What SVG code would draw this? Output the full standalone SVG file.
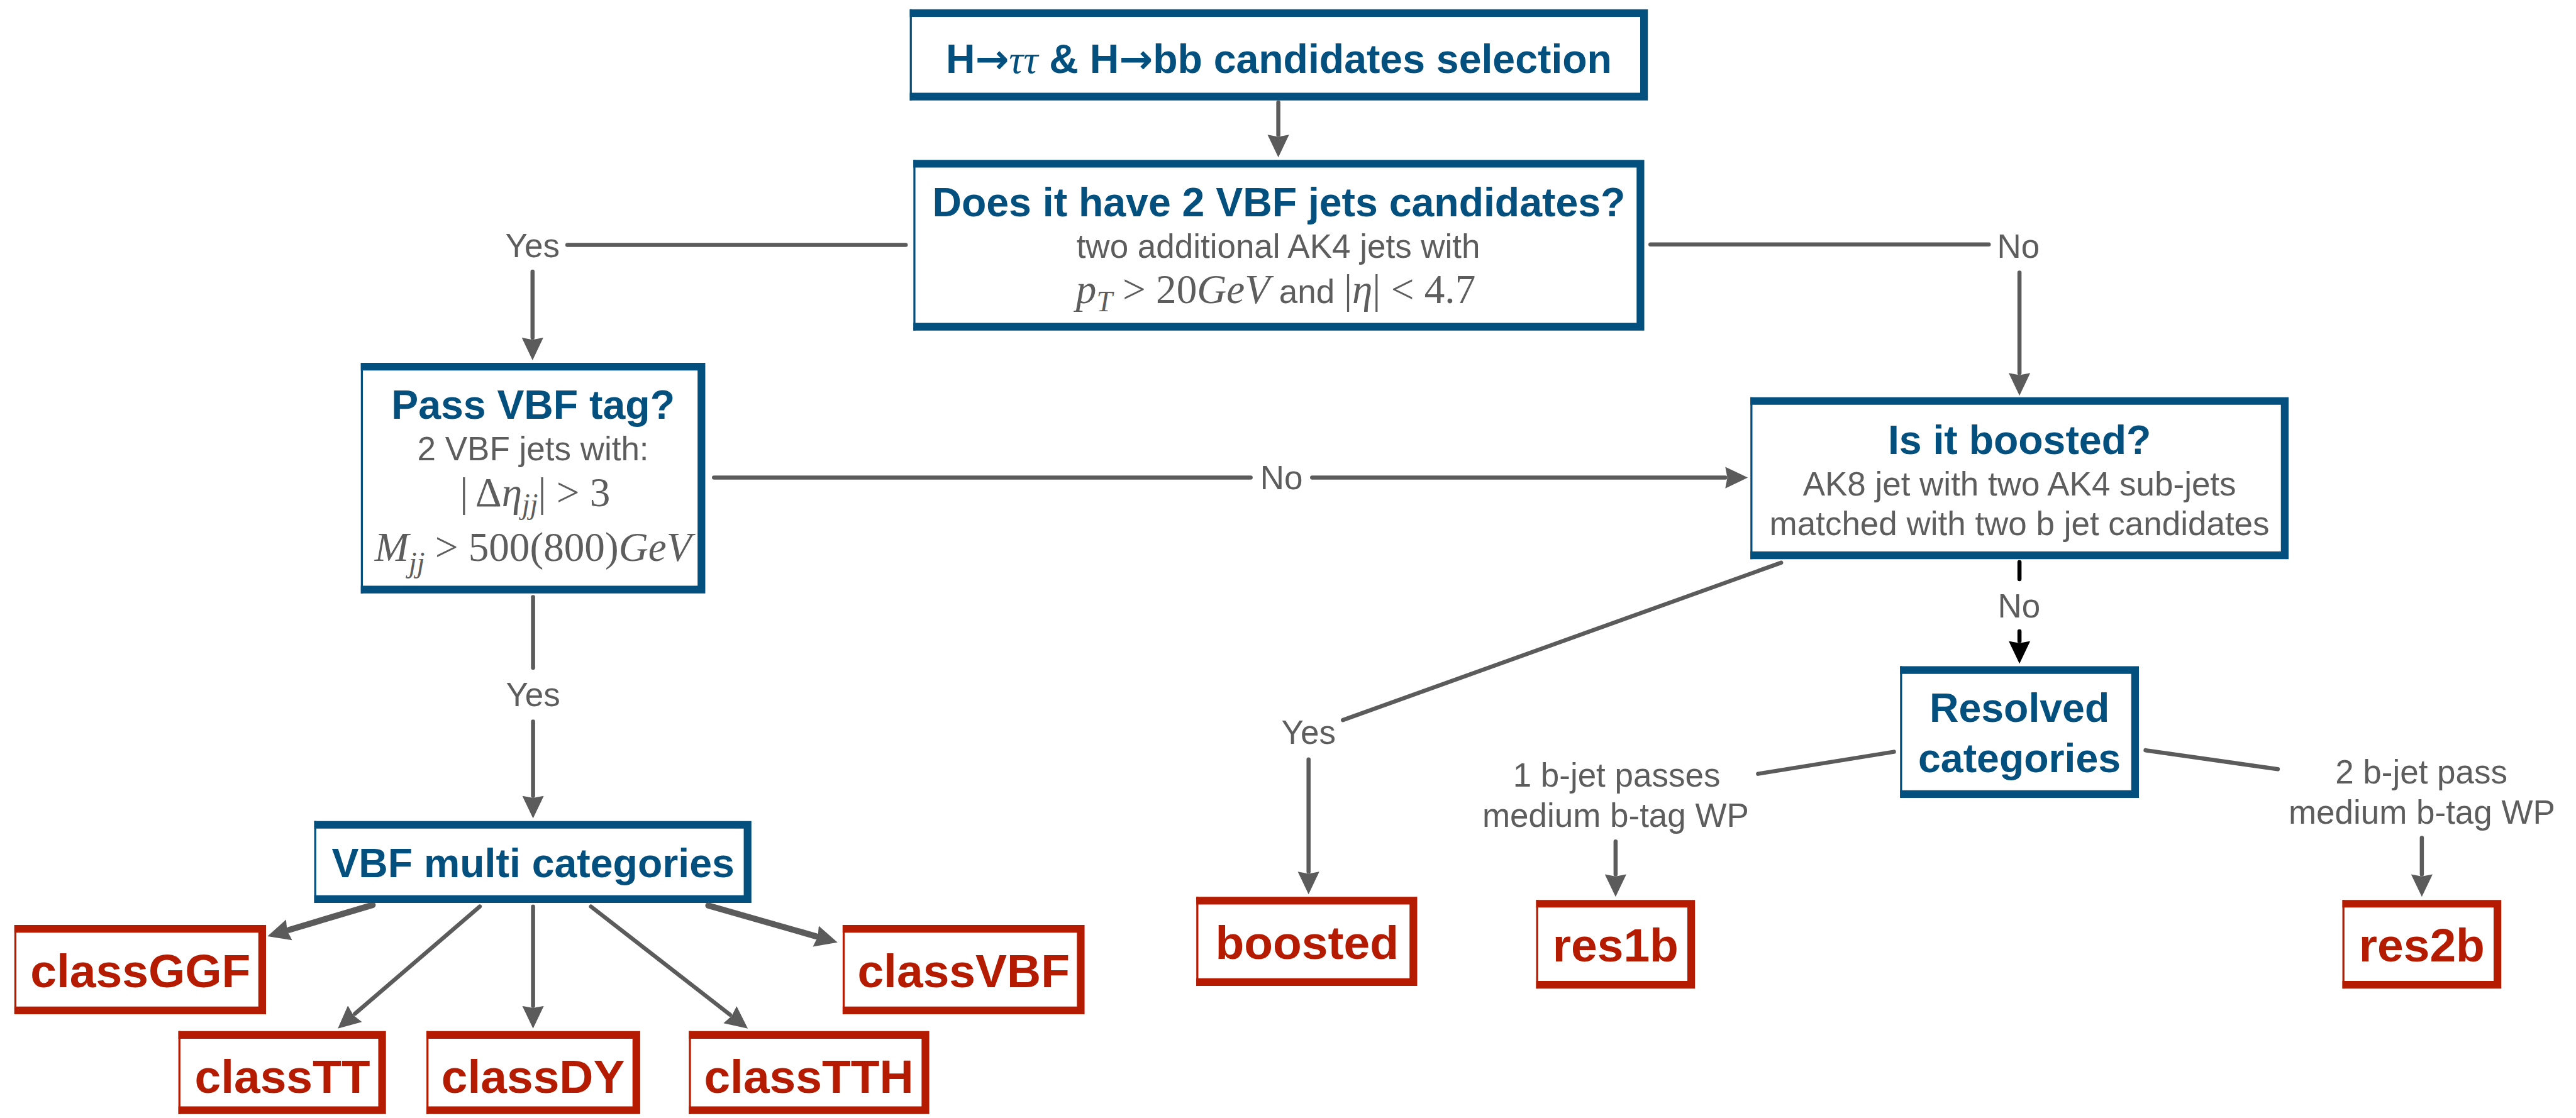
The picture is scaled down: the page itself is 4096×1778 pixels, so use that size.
<svg xmlns="http://www.w3.org/2000/svg" width="4096" height="1778" viewBox="0 0 4096 1778">
<defs>
<style>
.fill{fill:#ffffff}
.bandB{fill:none;stroke:#03507f;stroke-width:15;stroke-linejoin:miter}
.thinB{fill:none;stroke:#03507f;stroke-width:4}
.bandR{fill:none;stroke:#b41b00;stroke-width:15;stroke-linejoin:miter}
.thinR{fill:none;stroke:#b41b00;stroke-width:4}
.title{font-family:"Liberation Sans",Arial,sans-serif;font-weight:bold;fill:#03507f;font-size:79px;text-anchor:middle}
.red{font-family:"Liberation Sans",Arial,sans-serif;font-weight:bold;fill:#b41b00;font-size:92px;text-anchor:middle}
.gray{font-family:"Liberation Sans",Arial,sans-serif;fill:#5d5d5d;font-size:65px;text-anchor:middle}
.math{font-family:"Liberation Serif","Times New Roman",serif;fill:#5d5d5d;font-size:80px;text-anchor:middle}
.it{font-style:italic}
.arr{font-family:"DejaVu Sans",sans-serif;font-weight:bold}
.conn{fill:none;stroke:#5b5b5b;stroke-width:8;stroke-linecap:round}
.thick{stroke-width:12}
.blk{fill:none;stroke:#000000;stroke-width:8;stroke-linecap:round}
</style>
<marker id="ah" viewBox="0 -23 46 46" refX="0" refY="0" markerWidth="46" markerHeight="46" markerUnits="userSpaceOnUse" orient="auto">
<path d="M0,-21 L44,0 L0,21 L4,0 z" fill="#5b5b5b"/>
</marker>
<marker id="ahk" viewBox="0 -23 46 46" refX="0" refY="0" markerWidth="46" markerHeight="46" markerUnits="userSpaceOnUse" orient="auto">
<path d="M0,-21 L44,0 L0,21 L4,0 z" fill="#000000"/>
</marker>
</defs>
<rect width="4096" height="1778" fill="#ffffff"/>
<g transform="scale(0.815)">

<g id="connectors">
<path class="conn" d="M2494,200 V263" marker-end="url(#ah)"/>
<path class="conn" d="M1767,478 H1107"/>
<path class="conn" d="M1039,530 V659" marker-end="url(#ah)"/>
<path class="conn" d="M3220,477 H3880"/>
<path class="conn" d="M3940,532 V728" marker-end="url(#ah)"/>
<path class="conn" d="M1393,932 H2440"/>
<path class="conn" d="M2560,932 H3366" marker-end="url(#ah)"/>
<path class="conn" d="M1040,1165 V1303"/>
<path class="conn" d="M1040,1408 V1553" marker-end="url(#ah)"/>
<path class="conn thick" d="M727,1766 L564,1814.5" marker-end="url(#ah)"/>
<path class="conn" d="M936,1769 L692.4,1978.3" marker-end="url(#ah)"/>
<path class="conn" d="M1040,1769 V1963" marker-end="url(#ah)"/>
<path class="conn" d="M1153,1769 L1424.3,1980" marker-end="url(#ah)"/>
<path class="conn thick" d="M1382,1767 L1591.7,1826.9" marker-end="url(#ah)"/>
<path class="blk" d="M3940,1097 V1130"/>
<path class="blk" d="M3940,1232 V1251" marker-end="url(#ahk)"/>
<path class="conn" d="M3475,1098 L2620,1405"/>
<path class="conn" d="M2553,1482 V1701" marker-end="url(#ah)"/>
<path class="conn" d="M3695,1467 L3430,1510"/>
<path class="conn" d="M3152,1642 V1706" marker-end="url(#ah)"/>
<path class="conn" d="M4186,1464 L4444,1501"/>
<path class="conn" d="M4725,1635 V1706" marker-end="url(#ah)"/>
</g>

<g id="labels">
<text class="gray" x="1039" y="502">Yes</text>
<text class="gray" x="3938" y="503">No</text>
<text class="gray" x="2500" y="955">No</text>
<text class="gray" x="1040" y="1378">Yes</text>
<text class="gray" x="3939" y="1205">No</text>
<text class="gray" x="2553" y="1452">Yes</text>
<text class="gray" x="3154" y="1535">1 b-jet passes</text>
<text class="gray" x="3152" y="1614">medium b-tag WP</text>
<text class="gray" x="4724" y="1529">2 b-jet pass</text>
<text class="gray" x="4725" y="1607">medium b-tag WP</text>
</g>

<g id="node-selection">
<rect class="fill" x="1775" y="18" width="1440" height="178"/>
<path class="bandB" d="M1775,25.5 H3207.5 V188.5 H1775"/>
<path class="thinB" d="M1777,18 V196"/>
<text class="title" x="2495" y="142" font-size="80">H<tspan class="arr">→</tspan><tspan font-family="'Liberation Serif',serif" font-style="italic" font-weight="normal">ττ</tspan> &amp; H<tspan class="arr">→</tspan>bb candidates selection</text>
</g>

<g id="node-vbfjets">
<rect class="fill" x="1782" y="312" width="1426" height="333"/>
<path class="bandB" d="M1782,319.5 H3200.5 V637.5 H1782"/>
<path class="thinB" d="M1784,312 V645"/>
<text class="title" x="2495" y="422">Does it have 2 VBF jets candidates?</text>
<text class="gray" x="2494" y="503">two additional AK4 jets with</text>
<text class="math" x="2489" y="592"><tspan class="it">p</tspan><tspan class="it" font-size="56" dy="15">T</tspan><tspan dy="-15"> &gt; 20</tspan><tspan class="it">GeV</tspan><tspan font-family="'Liberation Sans',Arial,sans-serif" font-size="65"> and </tspan><tspan>|</tspan><tspan class="it">η</tspan><tspan>| &lt; 4.7</tspan></text>
</g>

<g id="node-passvbf">
<rect class="fill" x="704" y="708" width="672" height="450"/>
<path class="bandB" d="M704,715.5 H1368.5 V1150.5 H704"/>
<path class="thinB" d="M706,708 V1158"/>
<text class="title" x="1040" y="817">Pass VBF tag?</text>
<text class="gray" x="1040" y="898">2 VBF jets with:</text>
<text class="math" x="1044" y="988"><tspan>|</tspan><tspan dx="14">Δ</tspan><tspan class="it">η</tspan><tspan class="it" font-size="56" dy="15">jj</tspan><tspan dy="-15">|</tspan><tspan> &gt; 3</tspan></text>
<text class="math" x="1040" y="1095"><tspan class="it">M</tspan><tspan class="it" font-size="56" dy="22">jj</tspan><tspan dy="-22"> &gt; 500(800)</tspan><tspan class="it">GeV</tspan></text>
</g>

<g id="node-boosted-q">
<rect class="fill" x="3415" y="775" width="1050" height="316"/>
<path class="bandB" d="M3415,782.5 H4457.5 V1083.5 H3415"/>
<path class="thinB" d="M3417,775 V1091"/>
<text class="title" x="3940" y="886" font-size="80">Is it boosted?</text>
<text class="gray" x="3940" y="967">AK8 jet with two AK4 sub-jets</text>
<text class="gray" x="3940" y="1044">matched with two b jet candidates</text>
</g>

<g id="node-resolved">
<rect class="fill" x="3707" y="1300" width="466" height="257"/>
<path class="bandB" d="M3707,1307.5 H4165.5 V1549.5 H3707"/>
<path class="thinB" d="M3709,1300 V1557"/>
<text class="title" x="3940" y="1408">Resolved</text>
<text class="title" x="3940" y="1507">categories</text>
</g>

<g id="node-vbfmulti">
<rect class="fill" x="613" y="1602" width="853" height="160"/>
<path class="bandB" d="M613,1609.5 H1458.5 V1754.5 H613"/>
<path class="thinB" d="M615,1602 V1762"/>
<text class="title" x="1040" y="1712">VBF multi categories</text>
</g>

<g id="node-classGGF">
<rect class="fill" x="28" y="1805" width="491" height="174"/>
<path class="bandR" d="M28,1812.5 H511.5 V1971.5 H28"/>
<path class="thinR" d="M30,1805 V1979"/>
<text class="red" x="274" y="1926">classGGF</text>
</g>

<g id="node-classVBF">
<rect class="fill" x="1644" y="1805" width="472" height="174"/>
<path class="bandR" d="M1644,1812.5 H2108.5 V1971.5 H1644"/>
<path class="thinR" d="M1646,1805 V1979"/>
<text class="red" x="1880" y="1926">classVBF</text>
</g>

<g id="node-classTT">
<rect class="fill" x="348" y="2012" width="405" height="162"/>
<path class="bandR" d="M348,2019.5 H745.5 V2166.5 H348"/>
<path class="thinR" d="M350,2012 V2174"/>
<text class="red" x="551" y="2133">classTT</text>
</g>

<g id="node-classDY">
<rect class="fill" x="832" y="2012" width="417" height="162"/>
<path class="bandR" d="M832,2019.5 H1241.5 V2166.5 H832"/>
<path class="thinR" d="M834,2012 V2174"/>
<text class="red" x="1040" y="2133">classDY</text>
</g>

<g id="node-classTTH">
<rect class="fill" x="1344" y="2012" width="469" height="162"/>
<path class="bandR" d="M1344,2019.5 H1805.5 V2166.5 H1344"/>
<path class="thinR" d="M1346,2012 V2174"/>
<text class="red" x="1578" y="2133">classTTH</text>
</g>

<g id="node-boosted">
<rect class="fill" x="2334" y="1750" width="431" height="174"/>
<path class="bandR" d="M2334,1757.5 H2757.5 V1916.5 H2334"/>
<path class="thinR" d="M2336,1750 V1924"/>
<text class="red" x="2550" y="1871">boosted</text>
</g>

<g id="node-res1b">
<rect class="fill" x="2997" y="1756" width="310" height="173"/>
<path class="bandR" d="M2997,1763.5 H3299.5 V1921.5 H2997"/>
<path class="thinR" d="M2999,1756 V1929"/>
<text class="red" x="3152" y="1876">res1b</text>
</g>

<g id="node-res2b">
<rect class="fill" x="4570" y="1756" width="310" height="173"/>
<path class="bandR" d="M4570,1763.5 H4872.5 V1921.5 H4570"/>
<path class="thinR" d="M4572,1756 V1929"/>
<text class="red" x="4725" y="1876">res2b</text>
</g>

</g>
</svg>
